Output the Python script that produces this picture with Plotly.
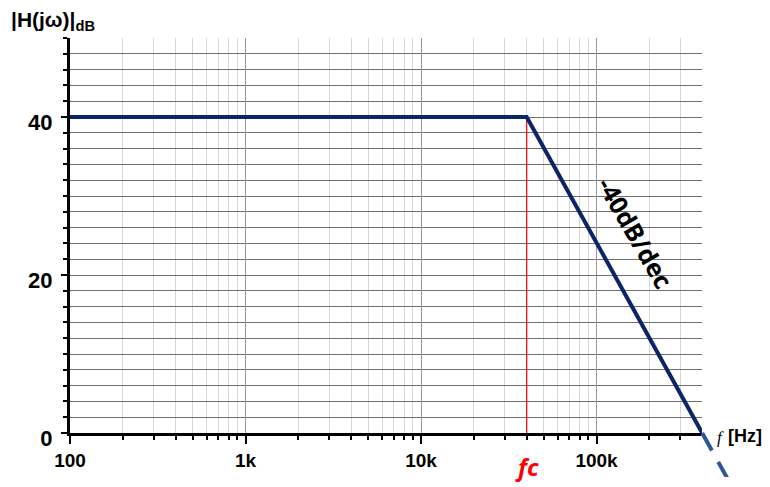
import numpy as np
import plotly.graph_objects as go

# ---- data ----
freq_hz = [100, 40000, 400000]          # Bode asymptote corners
gain_db = [40, 40, 0]
ext_freq_hz = [400000, 560000]         # dashed continuation below 0 dB
ext_gain_db = [0, -5.85]
fc_hz = 40000
fc_line_db = [0, 40]
x_tick_vals = [100, 1000, 10000, 100000]
x_tick_text = ["100", "1k", "10k", "100k"]
y_tick_vals = [0, 20, 40]
y_tick_text = ["0", "20", "40"]
x_minor_vals = [k * 10 ** e for e in range(2, 6) for k in range(2, 10) if k * 10 ** e <= 400000]

# page has an 8px body margin -> figure coordinates = page - 8
OFF = 8
W, H = 770 - OFF, 487 - OFF
ML, MT, MB = 70 - OFF, 38 - OFF, 10
main_right = 702 - OFF
ext_right = 740 - OFF
MR = W - ext_right
plot_w = ext_right - ML
plot_h = H - MT - MB
axis_px = 433 - OFF
dom_bottom = (H - MB - axis_px) / plot_h
dom_right = (main_right - ML) / plot_w
px_per_db = (axis_px - MT) / 50.0
y2_min = -(H - MB - axis_px) / px_per_db
x_range = [2, 5.601]
x2_range = [2, 2 + (x_range[1] - 2) / dom_right]


def px(xp):  # page pixel -> paper x
    return (xp - OFF - ML) / plot_w


def py(yp):  # page pixel -> paper y
    return (H - MB - (yp - OFF)) / plot_h


navy = "#0b2566"
fig = go.Figure()

fig.add_trace(go.Scatter(x=[fc_hz, fc_hz], y=fc_line_db, mode="lines",
                         line=dict(color="#ff0000", width=1.2), hoverinfo="skip",
                         showlegend=False, xaxis="x", yaxis="y"))
fig.add_trace(go.Scatter(x=freq_hz, y=gain_db, mode="lines",
                         line=dict(color=navy, width=4), showlegend=False,
                         xaxis="x", yaxis="y"))
fig.add_trace(go.Scatter(x=ext_freq_hz, y=ext_gain_db, mode="lines",
                         line=dict(color="#2b5896", width=4, dash="20px,13px"),
                         showlegend=False, xaxis="x2", yaxis="y2"))

bold = dict(family="Liberation Sans, Arial", color="black", weight="bold")
hidden = dict(showline=False, showticklabels=False, showgrid=False, zeroline=False,
              ticks="", automargin=False)

fig.update_layout(
    width=W, height=H,
    margin=dict(l=ML, r=MR, t=MT, b=MB, autoexpand=False),
    paper_bgcolor="white", plot_bgcolor="rgba(0,0,0,0)",
    showlegend=False,
    xaxis=dict(
        type="log", range=x_range, anchor="y", domain=[0, dom_right], automargin=False,
        tickmode="array", tickvals=x_tick_vals, ticktext=x_tick_text,
        tickfont=dict(size=19, **bold),
        ticks="outside", ticklen=8, tickwidth=2, tickcolor="black",
        showline=True, linewidth=3, linecolor="black",
        showgrid=True, gridcolor="#999999", gridwidth=1,
        zeroline=False,
        minor=dict(tickmode="array", tickvals=x_minor_vals, ticks="outside",
                   ticklen=4, tickwidth=2, tickcolor="black",
                   showgrid=True, gridcolor="#d6d6d6", gridwidth=1),
    ),
    yaxis=dict(
        domain=[dom_bottom, 1], range=[0, 50], anchor="x", automargin=False,
        tickmode="array", tickvals=y_tick_vals, ticktext=y_tick_text,
        tickfont=dict(size=22, **bold), ticklabelstandoff=4, ticklabelshift=5,
        ticks="outside", ticklen=6, tickwidth=2, tickcolor="black",
        showline=True, linewidth=3, linecolor="black",
        showgrid=True, gridcolor="#707070", gridwidth=1,
        zeroline=False,
        minor=dict(dtick=2, ticks="outside", ticklen=4, tickwidth=2,
                   tickcolor="black", showgrid=True, gridcolor="#707070",
                   gridwidth=1),
    ),
    xaxis2=dict(type="log", range=x2_range, domain=[0, 1], anchor="y2", **hidden),
    yaxis2=dict(domain=[0, 1], range=[y2_min, 50], anchor="x2", **hidden),
)

fig.add_annotation(x=5.22, y=25.4, xref="x", yref="y", text="-40dB/dec",
                   textangle=60, showarrow=False,
                   font=dict(family="Open Sans", size=25, color="black", weight="bold"))
fig.add_annotation(x=np.log10(fc_hz), y=py(466), xref="x", yref="paper",
                   yanchor="middle", text="<i>fc</i>", showarrow=False,
                   font=dict(family="Open Sans", size=24, color="#ff0000", weight="bold"))
fig.add_annotation(x=px(715), y=py(437), xref="paper", yref="paper",
                   xanchor="left", yanchor="middle",
                   text="<i>f</i>", showarrow=False,
                   font=dict(family="Liberation Serif", size=17, color="black"))
fig.add_annotation(x=px(726), y=py(436), xref="paper", yref="paper",
                   xanchor="left", yanchor="middle",
                   text="[Hz]", showarrow=False, font=dict(size=18, **bold))
fig.add_annotation(x=px(9), y=py(21), xref="paper", yref="paper",
                   xanchor="left", yanchor="middle",
                   text="|H(jω)|<sub>dB</sub>", showarrow=False,
                   font=dict(size=21, family="Liberation Sans Narrow, Arial Narrow, Liberation Sans",
                             color="black", weight="bold"))

fig.write_html("out.html")
